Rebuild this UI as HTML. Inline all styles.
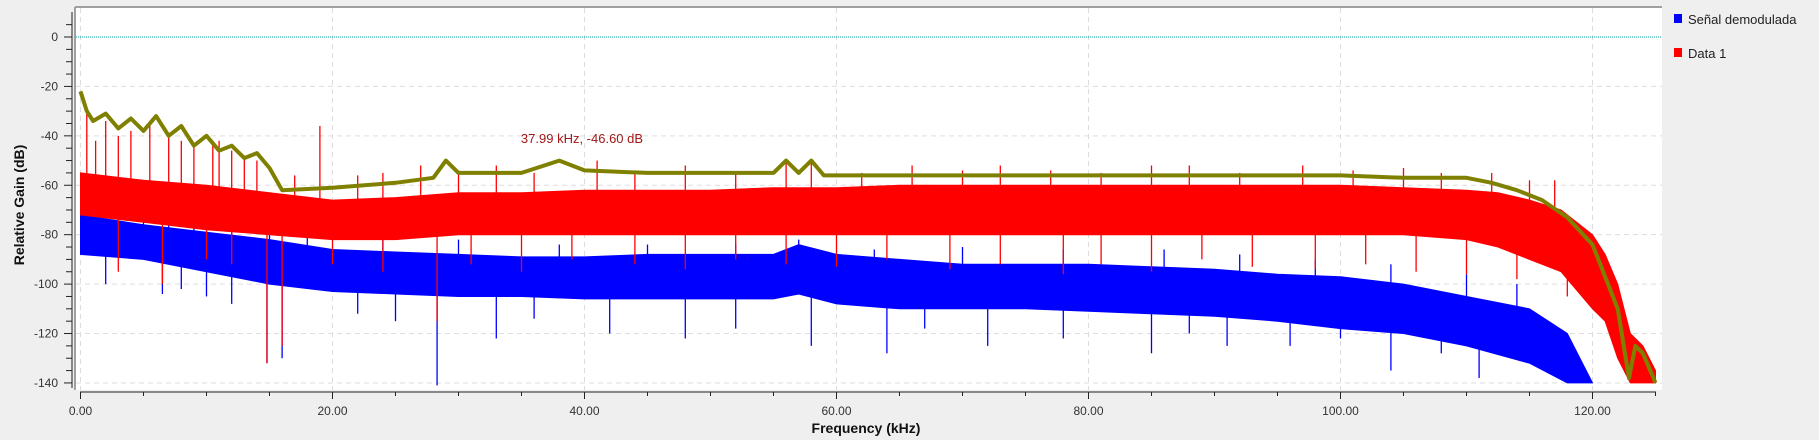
<!DOCTYPE html>
<html><head><meta charset="utf-8"><style>
html,body{margin:0;padding:0;background:#efefef;}
svg{display:block;font-family:"Liberation Sans","DejaVu Sans",sans-serif;}
</style></head><body>
<svg id="chart" width="1819" height="440" viewBox="0 0 1819 440" xmlns="http://www.w3.org/2000/svg">
<rect x="0" y="0" width="1819" height="440" fill="#efefef"/>
<rect x="76" y="8" width="1586" height="382" fill="#ffffff"/>
<line x1="75" y1="7" x2="1662" y2="7" stroke="#a0a0a0" stroke-width="2"/>
<line x1="75" y1="7" x2="75" y2="390" stroke="#a0a0a0" stroke-width="2"/>
<g id="grid"></g>
<g id="series"></g>
<g id="axes"></g>
<text x="582" y="143" text-anchor="middle" font-size="13" fill="#a01818">37.99 kHz, -46.60 dB</text>
<text x="866" y="433" text-anchor="middle" font-size="14" font-weight="bold" fill="#111">Frequency (kHz)</text>
<text transform="translate(24,205) rotate(-90)" text-anchor="middle" font-size="14" font-weight="bold" fill="#111">Relative Gain (dB)</text>
<g>
<rect x="1674" y="14" width="8" height="9" fill="#0000ff"/>
<text x="1688" y="24" font-size="13" fill="#222">Señal demodulada</text>
<rect x="1674" y="48" width="8" height="9" fill="#ff0000"/>
<text x="1688" y="58" font-size="13" fill="#222">Data 1</text>
</g>
</svg>
<script>
const xTicks = [0,20,40,60,80,100,120];
const xTickLabels = ["0.00","20.00","40.00","60.00","80.00","100.00","120.00"];
const yTicks = [0,-20,-40,-60,-80,-100,-120,-140];
const yTickLabels = ["0","-20","-40","-60","-80","-100","-120","-140"];

const oliveF = [0,0.5,1,2,3,4,5,6,7,8,9,10,11,12,13,14,15,16,20,25,28,29,30,35,38,40,45,50,55,56,57,58,59,65,70,80,90,100,105,110,112,114,116,118,120,122,122.9,123.4,124,124.5,125];
const oliveV = [-22,-30,-34,-31,-37,-33,-38,-32,-40,-36,-44,-40,-46,-44,-49,-47,-53,-62,-61,-59,-57,-50,-55,-55,-50,-54,-55,-55,-55,-50,-55,-50,-56,-56,-56,-56,-56,-56,-57,-57,-59,-62,-66,-73,-84,-110,-138,-125,-128,-134,-140];

const redF = [0,5,10,15,20,25,30,35,40,45,50,55,60,65,70,75,80,85,90,95,100,105,110,112.5,115,117.5,120,121,122,123,124,125];
const redTop = [-55,-58,-60,-63,-66,-65,-63,-63,-62,-62,-62,-61,-61,-60,-60,-60,-60,-60,-60,-60,-60,-61,-62,-63,-66,-70,-80,-88,-100,-120,-125,-135];
const redBot = [-72,-75,-78,-80,-82,-82,-80,-80,-80,-80,-80,-80,-80,-80,-80,-80,-80,-80,-80,-80,-80,-80,-82,-85,-90,-95,-110,-115,-130,-140,-140,-140];

const blueF = [0,5,10,15,20,25,30,35,40,45,50,55,57,60,65,70,75,80,85,90,95,100,105,110,115,118,120];
const blueTop = [-72,-76,-79,-82,-86,-87,-88,-89,-89,-88,-88,-88,-84,-88,-90,-92,-92,-92,-93,-94,-96,-97,-100,-105,-110,-120,-140];
const blueBot = [-88,-90,-95,-100,-103,-104,-105,-105,-106,-106,-106,-106,-104,-108,-110,-110,-110,-111,-112,-113,-115,-118,-120,-125,-132,-140,-140];

const redSpikeF = [0.5,1.2,2,3,4,5.5,7,8,9,10.5,11,12,13,14,17,19,22,24,27,30,33,36,41,44,48,52,56,58,62,66,70,73,77,81,85,88,92,97,101,105,108,112,115,117];
const redSpikeV = [-30,-42,-34,-40,-38,-35,-40,-42,-44,-42,-42,-46,-48,-50,-56,-36,-56,-55,-52,-54,-52,-55,-50,-54,-52,-55,-50,-50,-55,-52,-54,-52,-54,-55,-52,-52,-55,-52,-54,-53,-55,-55,-58,-58];
const redDipF = [3,6.5,10,12,14.8,16,20,24,28.3,31,35,39,44,48,52,56,60,64,69,73,78,81,85,89,93,98,102,106,110,114,118];
const redDipV = [-95,-100,-90,-92,-132,-125,-92,-95,-115,-92,-95,-90,-92,-94,-90,-92,-93,-90,-94,-92,-96,-92,-95,-90,-93,-94,-92,-95,-96,-98,-105];
const blueDipF = [2,6.5,8,10,12,14.8,16,22,25,28.3,33,36,42,48,52,58,64,67,72,78,85,88,91,96,100,104,108,111,115];
const blueDipV = [-100,-104,-102,-105,-108,-132,-130,-112,-115,-141,-122,-114,-120,-122,-118,-125,-128,-118,-125,-122,-128,-120,-125,-125,-122,-135,-128,-138,-130];
const blueSpikeF = [1,3,5,7,9,12,15,18,24,30,38,45,52,57,63,70,78,86,92,98,104,110,114];
const blueSpikeV = [-62,-65,-66,-70,-68,-72,-76,-80,-82,-82,-84,-84,-84,-82,-86,-85,-86,-86,-88,-90,-92,-96,-100];

const NS = "http://www.w3.org/2000/svg";
const X0 = 80.5, PXK = 12.6, Y0 = 37, PXD = 2.471;
function xs(f){ return X0 + f*PXK; }
function ys(v){ return Y0 - v*PXD; }
function mk(tag, attrs, parent){
  const e = document.createElementNS(NS, tag);
  for (const k in attrs) e.setAttribute(k, attrs[k]);
  parent.appendChild(e);
  return e;
}
const grid = document.getElementById('grid');
const axes = document.getElementById('axes');
const series = document.getElementById('series');

yTicks.forEach((v)=>{
  if (v===0) return;
  const l = mk('line',{x1:76,x2:1662,y1:ys(v),y2:ys(v),stroke:'#dddddd','stroke-dasharray':'5,4'},grid);
  
  
});
xTicks.forEach((f)=>{
  const l = mk('line',{x1:xs(f),x2:xs(f),y1:8,y2:390,stroke:'#dddddd','stroke-dasharray':'5,4'},grid);
  
  
});
const zl = mk('line',{x1:76,x2:1662,y1:ys(0),y2:ys(0),stroke:'#00a0a0','stroke-dasharray':'1,1'},grid);



function band(F, top, bot, color, name){
  let d = 'M';
  F.forEach((f,i)=>{ d += xs(f).toFixed(1)+','+ys(top[i]).toFixed(1)+' L'; });
  for (let i=F.length-1;i>=0;i--){ d += xs(F[i]).toFixed(1)+','+ys(bot[i]).toFixed(1)+(i>0?' L':''); }
  d += 'Z';
  const p = mk('path',{d:d,fill:color,stroke:color,'stroke-width':1},series);
  
  
}
function interp(F,V,f){
  for(let i=0;i<F.length-1;i++){ if(f>=F[i]&&f<=F[i+1]){ const t=(f-F[i])/(F[i+1]-F[i]); return V[i]+t*(V[i+1]-V[i]); } }
  return V[V.length-1];
}
function spikes(F,V,baseF,baseV,color,name){
  F.forEach((f,i)=>{
    const l = mk('line',{x1:xs(f),x2:xs(f),y1:ys(V[i]),y2:ys(interp(baseF,baseV,f)),stroke:color,'stroke-width':1.3},series);
    
    
  });
}
band(blueF,blueTop,blueBot,'#0000ff','blue-series-band');
spikes(blueDipF,blueDipV,blueF,blueBot,'#0000ff','blue-dip-spike');
spikes(blueSpikeF,blueSpikeV,blueF,blueTop,'#0000ff','blue-peak-spike');
band(redF,redTop,redBot,'#ff0000','red-series-band');
spikes(redSpikeF,redSpikeV,redF,redTop,'#ff0000','red-peak-spike');
spikes(redDipF,redDipV,redF,redBot,'#ff0000','red-dip-spike');
let od = '';
oliveF.forEach((f,i)=>{ od += (i?' L':'M')+xs(f).toFixed(1)+','+ys(oliveV[i]).toFixed(1); });
const ol = mk('path',{d:od,fill:'none',stroke:'#808000','stroke-width':4,'stroke-linejoin':'round'},series);



const ya = mk('line',{x1:72,x2:72,y1:12,y2:388,stroke:'#222','stroke-width':1},axes);


for (let v=5; v>=-140; v-=5){
  const major = v%20===0;
  const t = mk('line',{x1:major?64:66,x2:72,y1:ys(v),y2:ys(v),stroke:'#222'},axes);
  
  
}
yTicks.forEach((v,i)=>{
  const t = mk('text',{x:58,y:ys(v)+4,'text-anchor':'end','font-size':12,fill:'#333'},axes);
  t.textContent = yTickLabels[i];
  
  
});
const xa = mk('line',{x1:80,x2:1656,y1:392,y2:392,stroke:'#222','stroke-width':1},axes);


for (let f=0; f<=125; f+=5){
  const major = f%20===0;
  const t = mk('line',{x1:xs(f),x2:xs(f),y1:392,y2:major?399:396,stroke:'#222'},axes);
  
  
}
xTicks.forEach((f,i)=>{
  const t = mk('text',{x:xs(f),y:415,'text-anchor':'middle','font-size':12,fill:'#333'},axes);
  t.textContent = xTickLabels[i];
  
  
});
</script>
</body></html>
